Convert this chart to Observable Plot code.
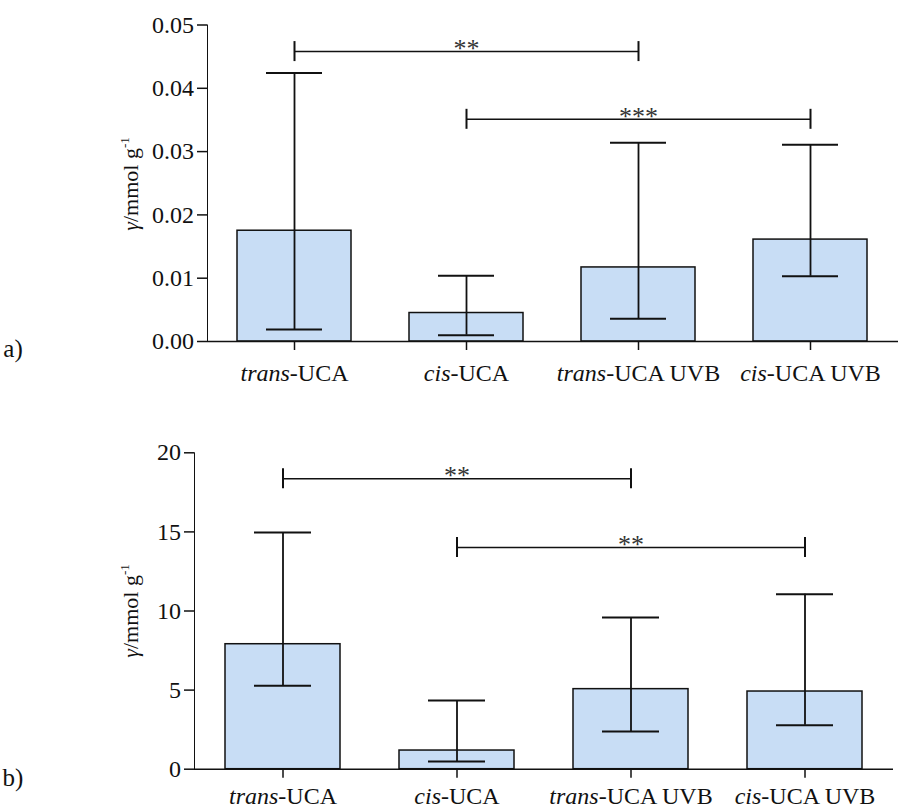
<!DOCTYPE html>
<html><head><meta charset="utf-8">
<script src="https://cdn.jsdelivr.net/npm/d3@7"></script>
<script src="https://cdn.jsdelivr.net/npm/@observablehq/plot@0.6"></script>
<style>
body{margin:0;background:#fff;}
#wrap{position:relative;width:910px;height:810px;overflow:hidden;}
#wrap svg{position:absolute;left:0;}
#wrap [aria-label^="x-axis"], #wrap [aria-label^="y-axis"]{stroke-width:1.5;}
</style></head><body><div id="wrap"></div>
<script>
const categories = ["trans-UCA", "cis-UCA", "trans-UCA UVB", "cis-UCA UVB"];

// panel a) values (mmol g^-1)
const meanA = [0.0175, 0.0045, 0.0117, 0.0161];
const lowA  = [0.0019, 0.0010, 0.0036, 0.0103];
const highA = [0.0424, 0.0104, 0.0314, 0.0311];
const yTicksA = [0, 0.01, 0.02, 0.03, 0.04, 0.05];
const sigFromA = ["trans-UCA", "cis-UCA"];
const sigToA   = ["trans-UCA UVB", "cis-UCA UVB"];
const sigMidA  = ["cis-UCA", "trans-UCA UVB"];
const sigYA    = [0.0458, 0.0351];
const sigLabA  = ["**", "***"];

// panel b) values (mmol g^-1)
const meanB = [7.9, 1.18, 5.06, 4.91];
const lowB  = [5.27, 0.49, 2.38, 2.78];
const highB = [14.96, 4.34, 9.59, 11.06];
const yTicksB = [0, 5, 10, 15, 20];
const sigFromB = ["trans-UCA", "cis-UCA"];
const sigToB   = ["trans-UCA UVB", "cis-UCA UVB"];
const sigMidB  = ["cis-UCA", "trans-UCA UVB"];
const sigYB    = [18.36, 14.01];
const sigLabB  = ["**", "**"];

const ink = "#111";
const barFill = "#c8ddf5";

function makePanel(o) {
  const rows = categories.map((c, i) => ({cat: c, mean: o.mean[i], lo: o.low[i], hi: o.high[i]}));
  const sig = o.sigFrom.map((f, i) => ({from: f, to: o.sigTo[i], mid: o.sigMid[i], y: o.sigY[i], lab: o.sigLab[i]}));
  const svg = Plot.plot({
    width: 910, height: o.height,
    marginLeft: o.ml, marginRight: o.mr, marginTop: o.mt, marginBottom: o.mb,
    style: {fontFamily: "'Liberation Serif', 'Times New Roman', serif", fontSize: "24px", color: ink, background: "#fff"},
    x: {type: "band", domain: categories, paddingInner: 0.337, paddingOuter: 0.168, align: 0.5,
        label: null, tickSize: 9, tickPadding: o.xPad},
    y: {domain: o.domain, ticks: o.ticks, tickFormat: o.fmt, tickSize: 10, tickPadding: 3.5,
        label: null, line: true},
    marks: [
      Plot.barY(rows, {x: "cat", y: "mean", fill: barFill, stroke: ink, strokeWidth: 1.5}),
      Plot.ruleX(rows, {x: "cat", y1: "lo", y2: "hi", stroke: ink, strokeWidth: 1.8}),
      Plot.tickY(rows, {x: "cat", y: "hi", stroke: ink, strokeWidth: 2, insetLeft: 29, insetRight: 29}),
      Plot.tickY(rows, {x: "cat", y: "lo", stroke: ink, strokeWidth: 2, insetLeft: 29, insetRight: 29}),
      Plot.ruleY([0], {stroke: ink, strokeWidth: 1.5}),
      Plot.link(sig, {x1: "from", x2: "to", y1: "y", y2: "y", stroke: ink, strokeWidth: 1.5}),
      Plot.ruleX(sig, {x: "from", y1: "y", y2: "y", insetTop: -10, insetBottom: -10, stroke: ink, strokeWidth: 2}),
      Plot.ruleX(sig, {x: "to", y1: "y", y2: "y", insetTop: -10, insetBottom: -10, stroke: ink, strokeWidth: 2}),
      Plot.text(sig, {x: "mid", y: "y", text: "lab", dy: -3, fontSize: 26, fill: "#333"})
    ]
  });
  const s = d3.select(svg);
  // italic prefixes in category labels
  s.selectAll('[aria-label^="x-axis"] text').each(function() {
    const t = this.textContent;
    const k = t.indexOf("-");
    if (k > 0) {
      const el = d3.select(this);
      el.text(null);
      el.append("tspan").attr("font-style", "italic").text(t.slice(0, k));
      el.append("tspan").text(t.slice(k));
    }
  });
  // y-axis title
  const yl = s.append("text")
    .attr("transform", `translate(${o.ylx},${o.yly}) rotate(-90)`)
    .attr("text-anchor", "middle").attr("font-size", 22).attr("fill", ink);
  yl.append("tspan").attr("font-style", "italic").text("γ");
  yl.append("tspan").text("/mmol g");
  yl.append("tspan").attr("font-size", 13).attr("dy", -9).text("-1");
  // panel letter
  s.append("text").attr("x", 13).attr("y", o.py).attr("font-size", 25).attr("fill", ink).text(o.panel);
  svg.style.top = o.top + "px";
  document.getElementById("wrap").appendChild(svg);
}

makePanel({mean: meanA, low: lowA, high: highA, sigFrom: sigFromA, sigTo: sigToA, sigMid: sigMidA, sigY: sigYA, sigLab: sigLabA,
  domain: [0, 0.05], ticks: yTicksA, fmt: d3.format(".2f"), height: 400, top: 0,
  ml: 207, mr: 12, mt: 24.5, mb: 59, xPad: 13, ylx: 138, yly: 184, py: 357, panel: "a)"});
makePanel({mean: meanB, low: lowB, high: highB, sigFrom: sigFromB, sigTo: sigToB, sigMid: sigMidB, sigY: sigYB, sigLab: sigLabB,
  domain: [0, 20], ticks: yTicksB, fmt: d3.format("d"), height: 410, top: 400,
  ml: 194, mr: 17, mt: 52.3, mb: 41.3, xPad: 9, ylx: 138, yly: 211, py: 386, panel: "b)"});
</script></body></html>
